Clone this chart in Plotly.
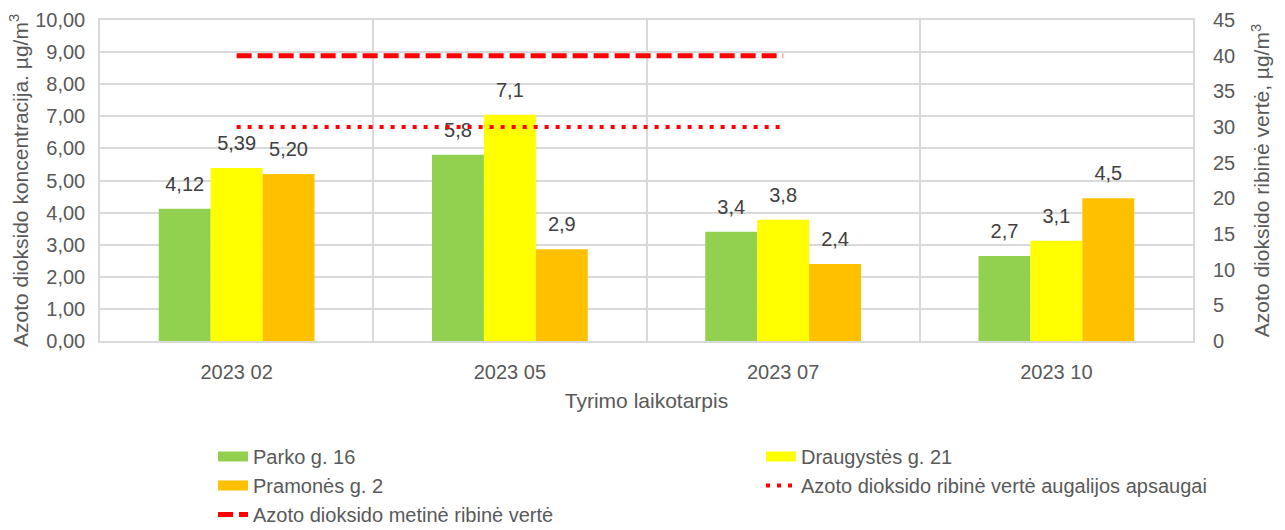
import plotly.graph_objects as go

# ---- data ----
categories = ["2023 02", "2023 05", "2023 07", "2023 10"]
parko = [4.12, 5.80, 3.40, 2.65]
draugystes = [5.39, 7.05, 3.78, 3.12]
pramones = [5.20, 2.86, 2.40, 4.45]
parko_labels = ["4,12", "5,8", "3,4", "2,7"]
draugystes_labels = ["5,39", "7,1", "3,8", "3,1"]
pramones_labels = ["5,20", "2,9", "2,4", "4,5"]

line_categories = ["2023 02", "2023 05", "2023 07"]
augalijos_riba = [30, 30, 30]
metine_riba = [40, 40, 40]

series_names = ["Parko g. 16", "Draugystės g. 21", "Pramonės g. 2"]
line_names = ["Azoto dioksido ribinė vertė augalijos apsaugai",
              "Azoto dioksido metinė ribinė vertė"]

# ---- style ----
FONT = "Liberation Sans, Arial, sans-serif"
TXT = "#595959"
LBL = "#404040"
GRID = "#D9D9D9"
colors = ["#92D050", "#FFFF00", "#FFC000"]
RED = "#FF0000"

fig = go.Figure()

series = [parko, draugystes, pramones]
labels = [parko_labels, draugystes_labels, pramones_labels]
groups = ["p", "d", "r"]

# bars
for vals, col, grp, name in zip(series, colors, groups, series_names):
    fig.add_trace(go.Bar(
        x=categories, y=vals, name=name, marker=dict(color=col, line=dict(width=0)),
        offsetgroup=grp, showlegend=False, hoverinfo="skip",
    ))

# data labels (grouped scatter so they sit over their bars)
for vals, lab, grp in zip(series, labels, groups):
    fig.add_trace(go.Scatter(
        x=categories, y=vals, text=lab, mode="markers+text",
        marker=dict(size=19, opacity=0), textposition="top center",
        textfont=dict(family=FONT, size=20, color=LBL),
        offsetgroup=grp, showlegend=False, hoverinfo="skip", cliponaxis=False,
    ))

# legend proxies for bars
for col, name in zip(colors, series_names):
    fig.add_trace(go.Scatter(
        x=[None], y=[None], mode="lines", name=name,
        line=dict(color=col, width=12),
        xaxis="x", yaxis="y2", alignmentgroup="lines", offsetgroup="L",
    ))

# limit lines on right axis
fig.add_trace(go.Scatter(
    x=line_categories, y=augalijos_riba, mode="lines", name=line_names[0],
    line=dict(color=RED, width=4, dash="4px,7px"),
    yaxis="y2", alignmentgroup="lines", offsetgroup="L", hoverinfo="skip",
))
fig.add_trace(go.Scatter(
    x=line_categories, y=metine_riba, mode="lines", name=line_names[1],
    line=dict(color=RED, width=5, dash="15px,6px"),
    yaxis="y2", alignmentgroup="lines", offsetgroup="L", hoverinfo="skip",
))

fig.update_layout(
    width=1285, height=530,
    margin=dict(l=100, r=92, t=20, b=189, autoexpand=False),
    paper_bgcolor="white", plot_bgcolor="white",
    font=dict(family=FONT, size=20, color=TXT),
    separators=", ",
    barmode="group", bargap=0.43, bargroupgap=0,
    scattermode="group", scattergap=0.43,
    xaxis=dict(
        type="category", categoryorder="array", categoryarray=categories,
        range=[-0.5, 3.5], tickson="boundaries", ticks="",
        showgrid=True, gridcolor=GRID, gridwidth=1.5,
        showline=True, linecolor=GRID, linewidth=1.5, mirror=True,
        tickfont=dict(size=20, color=TXT), ticklabelstandoff=12,
        title=dict(text="Tyrimo laikotarpis", font=dict(size=21, color=TXT), standoff=12),
        automargin=False, zeroline=False,
    ),
    yaxis=dict(
        range=[0, 10], dtick=1, tickformat=".2f",
        showgrid=True, gridcolor=GRID, gridwidth=1.5,
        showline=True, linecolor=GRID, linewidth=1.5, mirror=True,
        ticks="", tickfont=dict(size=20, color=TXT), ticklabelstandoff=9,
        title=dict(text="Azoto dioksido koncentracija. µg/m<sup>3</sup>",
                   font=dict(size=21, color=TXT), standoff=1),
        automargin=False, zeroline=False,
    ),
    yaxis2=dict(
        overlaying="y", side="right", range=[0, 45], dtick=5,
        showgrid=False, zeroline=False, showline=False, ticks="",
        tickfont=dict(size=20, color=TXT), ticklabelstandoff=19,
        title=dict(text="Azoto dioksido ribinė vertė, µg/m<sup>3</sup>",
                   font=dict(size=21, color=TXT), standoff=20),
        automargin=False,
    ),
    legend=dict(
        orientation="h", x=0.1034, xanchor="left", y=-0.299, yanchor="top",
        entrywidth=503, entrywidthmode="pixels",
        font=dict(size=20, color=TXT), itemwidth=30,
        bgcolor="rgba(0,0,0,0)", traceorder="normal",
    ),
    showlegend=True,
)

fig.write_html("out.html", config={"displayModeBar": False},
               post_script="document.body.style.margin='0px';")
